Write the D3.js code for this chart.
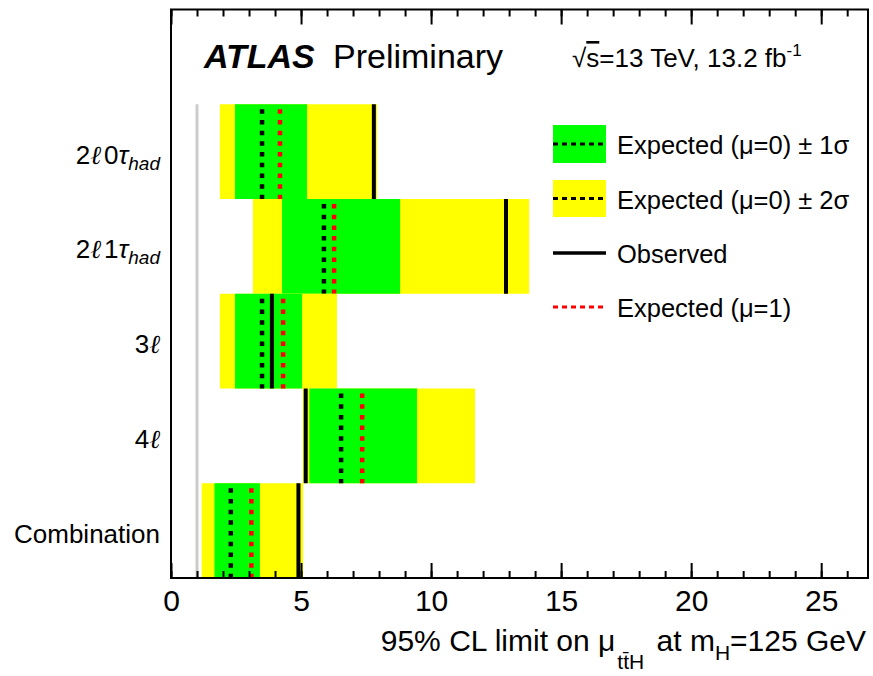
<!DOCTYPE html>
<html><head><meta charset="utf-8">
<script src="https://cdn.jsdelivr.net/npm/d3@7"></script>
<style>
body{margin:0;background:#fff;}
svg text{font-family:"Liberation Sans",Arial,Helvetica,sans-serif;fill:#000;}
</style></head>
<body><svg id="chart" width="873" height="676"></svg>
<script>
// ---- data (top to bottom) ----
const categories = ["2ℓ0τ", "2ℓ1τ", "3ℓ", "4ℓ", "Combination"];
const rowPos     = [4, 3, 2, 1, 0];            // lower edge of each row on the y axis
const minus2     = [1.88, 3.15, 1.88, 5.07, 1.18];
const minus1     = [2.46, 4.27, 2.46, 5.32, 1.67];
const expected0  = [3.50, 5.88, 3.50, 6.54, 2.30];
const plus1      = [5.23, 8.81, 5.04, 9.46, 3.42];
const plus2      = [7.92, 13.77, 6.38, 11.69, 5.08];
const observed   = [7.80, 12.88, 3.88, 5.18, 4.90];
const expected1  = [4.19, 6.27, 4.31, 7.35, 3.09];
const xMajorTicks = [0, 5, 10, 15, 20, 25];
const xMinorTicks = d3.range(0, 27, 1);
const legendLabels = ["Expected (μ=0) ± 1σ", "Expected (μ=0) ± 2σ", "Observed", "Expected (μ=1)"];

const svg = d3.select("#chart");
const x = d3.scaleLinear().domain([0, 26.8]).range([171, 868]);
const y = d3.scaleLinear().domain([0, 6]).range([578, 9.5]);

const rows = categories.map((c, i) => ({c, lo: rowPos[i], m2: minus2[i], m1: minus1[i], e0: expected0[i],
  p1: plus1[i], p2: plus2[i], obs: observed[i], e1: expected1[i]}));

// reference line at mu = 1
svg.append("line").attr("x1", x(1)).attr("x2", x(1)).attr("y1", y(5)).attr("y2", y(0))
  .attr("stroke", "#cccccc").attr("stroke-width", 3);

const g = svg.append("g");
rows.forEach(r => {
  const top = y(r.lo + 1), bot = y(r.lo);
  g.append("rect").attr("x", x(r.m2)).attr("width", x(r.p2) - x(r.m2))
    .attr("y", top).attr("height", bot - top).attr("fill", "#ffff00");
  g.append("rect").attr("x", x(r.m1)).attr("width", x(r.p1) - x(r.m1))
    .attr("y", top).attr("height", bot - top).attr("fill", "#00ff00");
  g.append("line").attr("x1", x(r.e0)).attr("x2", x(r.e0)).attr("y1", top + 5).attr("y2", bot)
    .attr("stroke", "#000").attr("stroke-width", 4.5).attr("stroke-dasharray", "4.5 6.2");
  g.append("line").attr("x1", x(r.e1)).attr("x2", x(r.e1)).attr("y1", top + 5).attr("y2", bot)
    .attr("stroke", "#ff0000").attr("stroke-width", 4.5).attr("stroke-dasharray", "4.5 6.2");
  g.append("line").attr("x1", x(r.obs)).attr("x2", x(r.obs)).attr("y1", top).attr("y2", bot)
    .attr("stroke", "#000").attr("stroke-width", 4);
});

// frame
svg.append("rect").attr("x", 171).attr("y", 9.5).attr("width", 868 - 171).attr("height", 578 - 9.5)
  .attr("fill", "none").attr("stroke", "#000").attr("stroke-width", 2);

// axes
function styleAxis(sel){ sel.select(".domain").remove(); sel.selectAll(".tick line").attr("stroke","#000").attr("stroke-width",2); }
const bottomMinor = svg.append("g").attr("transform", "translate(0,578)")
  .call(d3.axisBottom(x).tickValues(xMinorTicks).tickSize(-7).tickFormat(""));
styleAxis(bottomMinor);
const bottomMajor = svg.append("g").attr("transform", "translate(0,578)")
  .call(d3.axisBottom(x).tickValues(xMajorTicks).tickSize(-15).tickPadding(12).tickFormat(d3.format("d")));
styleAxis(bottomMajor);
bottomMajor.selectAll("text").attr("font-size", 30).attr("font-family", "Liberation Sans, Arial, sans-serif");
const topMinor = svg.append("g").attr("transform", "translate(0,9.5)")
  .call(d3.axisTop(x).tickValues(xMinorTicks).tickSize(-7).tickFormat(""));
styleAxis(topMinor);
const topMajor = svg.append("g").attr("transform", "translate(0,9.5)")
  .call(d3.axisTop(x).tickValues(xMajorTicks).tickSize(-15).tickFormat(""));
styleAxis(topMajor);

// y labels
rows.forEach(r => {
  const t = svg.append("text").attr("x", 160).attr("y", y(r.lo + 0.5) + 12)
    .attr("text-anchor", "end").attr("font-size", 26);
  if (r.c === "Combination") { t.text("Combination"); return; }
  const m = r.c.match(/^(\d)ℓ(\d)?(τ)?$/);
  t.append("tspan").text(m[1]);
  t.append("tspan").attr("font-style", "italic").attr("font-family", "DejaVu Serif, serif").text("ℓ");
  if (m[2] !== undefined) {
    t.append("tspan").attr("dx", 3).text(m[2]);
    t.append("tspan").attr("font-style", "italic").text("τ");
    t.append("tspan").attr("font-style", "italic").attr("font-size", 19).attr("dy", 6).text("had");
  }
});

// x axis title
const xt = svg.append("text").attr("x", 866).attr("y", 651).attr("text-anchor", "end").attr("font-size", 30);
xt.append("tspan").text("95% CL limit on μ");
xt.append("tspan").attr("font-size", 21).attr("dy", 18).attr("dx", 2).text("tt̄H");
xt.append("tspan").attr("dy", -18).attr("dx", 4).text(" at m");
xt.append("tspan").attr("font-size", 21).attr("dy", 9).text("H");
xt.append("tspan").attr("dy", -9).text("=125 GeV");

// header
svg.append("text").attr("x", 204).attr("y", 68).attr("font-size", 34)
  .attr("font-weight", "bold").attr("font-style", "italic").text("ATLAS");
svg.append("text").attr("x", 333).attr("y", 68).attr("font-size", 34).text("Preliminary");
const lum = svg.append("text").attr("x", 572).attr("y", 67).attr("font-size", 26);
lum.append("tspan").text("√");
lum.append("tspan").attr("text-decoration", "overline").text("s");
lum.append("tspan").text("=13 TeV, 13.2 fb");
lum.append("tspan").attr("font-size", 17).attr("dy", -11).text("-1");

// legend
const lg = svg.append("g");
const ly = [144, 198.5, 253, 307];
lg.append("rect").attr("x", 553).attr("y", 125).attr("width", 53).attr("height", 38).attr("fill", "#00ff00");
lg.append("rect").attr("x", 553).attr("y", 180).attr("width", 53).attr("height", 37).attr("fill", "#ffff00");
[0, 1].forEach(i => lg.append("line").attr("x1", 553).attr("x2", 606).attr("y1", ly[i]).attr("y2", ly[i])
  .attr("stroke", "#000").attr("stroke-width", 3).attr("stroke-dasharray", "5 4"));
lg.append("line").attr("x1", 553).attr("x2", 606).attr("y1", ly[2]).attr("y2", ly[2])
  .attr("stroke", "#000").attr("stroke-width", 3.5);
lg.append("line").attr("x1", 553).attr("x2", 606).attr("y1", ly[3]).attr("y2", ly[3])
  .attr("stroke", "#ff0000").attr("stroke-width", 3).attr("stroke-dasharray", "5 4");
legendLabels.forEach((l, i) => lg.append("text").attr("x", 617).attr("y", ly[i] + 10).attr("font-size", 25.5).text(l));
</script></body></html>
